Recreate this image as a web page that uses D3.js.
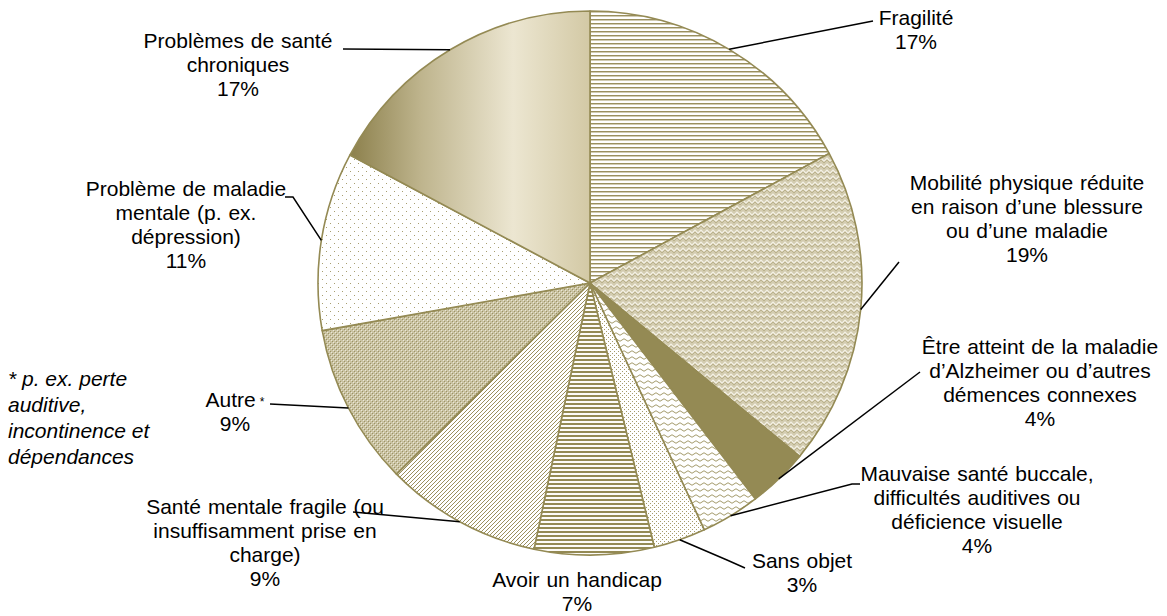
<!DOCTYPE html>
<html><head><meta charset="utf-8">
<script src="https://cdn.jsdelivr.net/npm/d3@7"></script>
<style>
html,body{margin:0;padding:0;background:#fff;}
svg{display:block;font-family:"Liberation Sans",Arial,sans-serif;}
</style></head>
<body><svg id="chart" width="1167" height="616"></svg>
<script>
// ---- data ----
const categories = [
  "Fragilité",
  "Mobilité physique réduite en raison d’une blessure ou d’une maladie",
  "Être atteint de la maladie d’Alzheimer ou d’autres démences connexes",
  "Mauvaise santé buccale, difficultés auditives ou déficience visuelle",
  "Sans objet",
  "Avoir un handicap",
  "Santé mentale fragile (ou insuffisamment prise en charge)",
  "Autre *",
  "Problème de maladie mentale (p. ex. dépression)",
  "Problèmes de santé chroniques"
];
const values = [17.1, 18.9, 3.6, 3.5, 3.1, 7.1, 9.3, 9.6, 10.6, 17.2];
const percentLabels = ["17%", "19%", "4%", "4%", "3%", "7%", "9%", "9%", "11%", "17%"];
const labelLines = [
  ["Fragilité"],
  ["Mobilité physique réduite", "en raison d’une blessure", "ou d’une maladie"],
  ["Être atteint de la maladie", "d’Alzheimer ou d’autres", "démences connexes"],
  ["Mauvaise santé buccale,", "difficultés auditives ou", "déficience visuelle"],
  ["Sans objet"],
  ["Avoir un handicap"],
  ["Santé mentale fragile (ou", "insuffisamment prise en", "charge)"],
  ["Autre"],
  ["Problème de maladie", "mentale (p. ex.", "dépression)"],
  ["Problèmes de santé", "chroniques"]
];
const footnoteLines = ["* p. ex. perte", "auditive,", "incontinence et", "dépendances"];

// ---- layout ----
const cx = 590, cy = 283, R = 272;
const olive = "#948A54";
// label block: center x, first line center y
const labelPos = [
  [916, 18], [1027, 183], [1040, 347], [977, 474], [802, 561],
  [577, 580], [265, 507], [235, 400], [186, 189], [238, 41]
];
// leader line end points (label side), null = none
const leaderEnds = [
  [[873, 21]],
  [[899, 262]],
  [[920, 372]],
  [[852, 484], [860, 484]],
  [[727, 560], [745, 568]],
  null,
  [[353, 512]],
  [[270, 404]],
  [[293, 197], [285, 197]],
  [[343, 49]]
];

const svg = d3.select("#chart");
const defs = svg.append("defs");

function pat(id, w, h, bg, build) {
  const p = defs.append("pattern").attr("id", id).attr("patternUnits", "userSpaceOnUse")
    .attr("width", w).attr("height", h);
  p.append("rect").attr("width", w).attr("height", h).attr("fill", bg);
  build(p);
}
// 0 Fragilité: thin horizontal lines
pat("p0", 4, 4, "#fff", p => {
  p.append("rect").attr("y", 0).attr("width", 4).attr("height", 1).attr("fill", "#9a8f5e");
  p.append("rect").attr("y", 1).attr("width", 4).attr("height", 1).attr("fill", "#d2ccb2");
});
// 1 Mobilité: herringbone / zigzag
pat("p1", 6, 6, "#d3ccb0", p => {
  p.append("path").attr("d", "M0,4 L3,1 L6,4").attr("fill", "none").attr("stroke", "#f4f1e6").attr("stroke-width", 1.2);
  p.append("path").attr("d", "M0,6 L3,3 L6,6").attr("fill", "none").attr("stroke", "#a9a074").attr("stroke-width", 0.6);
});
// 3 Mauvaise santé: wavy lines
pat("p3", 8, 6, "#fff", p => {
  p.append("path").attr("d", "M0,3 Q2,0.5 4,3 T8,3").attr("fill", "none").attr("stroke", "#a39a6a").attr("stroke-width", 1);
});
// 4 Sans objet: dense dots
pat("p4", 4, 4, "#fff", p => {
  p.append("rect").attr("x", 0).attr("y", 0).attr("width", 1).attr("height", 1).attr("fill", "#a59b6a");
  p.append("rect").attr("x", 2).attr("y", 2).attr("width", 1).attr("height", 1).attr("fill", "#a59b6a");
});
// 5 Handicap: thick horizontal lines
pat("p5", 4, 4, "#fdfcf8", p => {
  p.append("rect").attr("y", 0).attr("width", 4).attr("height", 2).attr("fill", olive);
});
// 6 Santé mentale fragile: diagonal lines
pat("p6", 4, 4, "#fff", p => {
  p.append("path").attr("d", "M-1,1 L1,-1 M0,4 L4,0 M3,5 L5,3").attr("stroke", "#9a8f5e").attr("stroke-width", 1);
});
// 7 Autre: small checker on tan
pat("p7", 4, 4, "#cac3a2", p => {
  p.append("rect").attr("x", 0).attr("y", 0).attr("width", 1).attr("height", 1).attr("fill", "#9c9266");
  p.append("rect").attr("x", 2).attr("y", 2).attr("width", 1).attr("height", 1).attr("fill", "#9c9266");
  p.append("rect").attr("x", 1).attr("y", 1).attr("width", 1).attr("height", 1).attr("fill", "#ebe7d8");
  p.append("rect").attr("x", 3).attr("y", 3).attr("width", 1).attr("height", 1).attr("fill", "#ebe7d8");
});
// 8 Maladie mentale: sparse dots
pat("p8", 8, 8, "#fff", p => {
  p.append("rect").attr("x", 0).attr("y", 0).attr("width", 1).attr("height", 1).attr("fill", "#a89e70");
  p.append("rect").attr("x", 4).attr("y", 4).attr("width", 1).attr("height", 1).attr("fill", "#a89e70");
});
// 9 Chroniques: horizontal gradient
const g = defs.append("linearGradient").attr("id", "g9").attr("x1", 0).attr("x2", 1).attr("y1", 0).attr("y2", 0);
[[0, "#8c804c"], [0.3, "#bfb58e"], [0.68, "#ece6d1"], [1, "#d3c9a5"]].forEach(([o, c]) =>
  g.append("stop").attr("offset", o).attr("stop-color", c));

const fills = ["url(#p0)", "url(#p1)", olive, "url(#p3)", "url(#p4)", "url(#p5)", "url(#p6)", "url(#p7)", "url(#p8)", "url(#g9)"];

const pie = d3.pie().sort(null).value(d => d);
const arcs = pie(values);
const arc = d3.arc().innerRadius(0).outerRadius(R);

const gPie = svg.append("g").attr("transform", `translate(${cx},${cy})`);
gPie.selectAll("path").data(arcs).enter().append("path")
  .attr("d", arc)
  .attr("fill", (d, i) => fills[i])
  .attr("stroke", olive).attr("stroke-width", 1.6).attr("stroke-linejoin", "round");

// leader lines
arcs.forEach((d, i) => {
  if (!leaderEnds[i]) return;
  const a = (d.startAngle + d.endAngle) / 2;
  const start = [cx + R * Math.sin(a), cy - R * Math.cos(a)];
  const pts = [start].concat(leaderEnds[i]);
  svg.append("polyline").attr("points", pts.map(p => p.join(",")).join(" "))
    .attr("fill", "none").attr("stroke", "#000").attr("stroke-width", 1.5);
});

// labels
const lh = 24;
categories.forEach((c, i) => {
  const [x, y] = labelPos[i];
  const lines = labelLines[i].concat([percentLabels[i]]);
  const t = svg.append("text").attr("text-anchor", "middle").attr("font-size", 21)
    .attr("word-spacing", 1).attr("fill", "#000");
  lines.forEach((ln, k) => {
    t.append("tspan").attr("x", x).attr("y", y + k * lh).attr("dy", "0.35em").text(ln);
    if (i === 7 && k === 0) {
      t.append("tspan").attr("font-size", 12).attr("dx", 4).attr("dy", "-0.1em").text("*");
    }
  });
});

// footnote
const fn = svg.append("text").attr("font-size", 21).attr("font-style", "italic").attr("fill", "#000");
footnoteLines.forEach((ln, k) => {
  fn.append("tspan").attr("x", 8).attr("y", 379 + k * 26).attr("dy", "0.35em").text(ln);
});
</script></body></html>
